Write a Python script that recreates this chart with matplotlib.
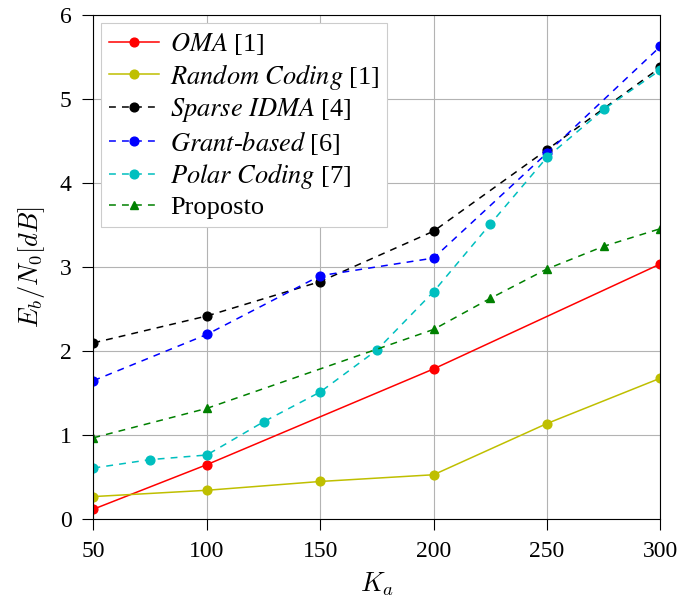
import matplotlib
matplotlib.use("Agg")
import matplotlib.pyplot as plt

plt.rcParams['font.family'] = ['Liberation Serif', 'DejaVu Serif']
plt.rcParams['mathtext.fontset'] = 'stix'

# data
k_oma = [50, 100, 200, 300]
eb_oma = [0.12, 0.65, 1.79, 3.04]

k_rand = [50, 100, 150, 200, 250, 300]
eb_rand = [0.27, 0.345, 0.45, 0.53, 1.14, 1.68]

k_idma = [50, 100, 150, 200, 250, 300]
eb_idma = [2.10, 2.42, 2.83, 3.43, 4.40, 5.38]

k_grant = [50, 100, 150, 200, 250, 300]
eb_grant = [1.65, 2.20, 2.90, 3.11, 4.36, 5.63]

k_polar = [50, 75, 100, 125, 150, 175, 200, 225, 250, 275, 300]
eb_polar = [0.61, 0.71, 0.765, 1.16, 1.515, 2.015, 2.71, 3.515, 4.31, 4.88, 5.35]

k_prop = [50, 100, 200, 225, 250, 275, 300]
eb_prop = [0.97, 1.32, 2.26, 2.63, 2.98, 3.25, 3.46]

labels = [r"$\mathit{OMA}$ [1]",
          r"$\mathit{Random\ Coding}$ [1]",
          r"$\mathit{Sparse\ IDMA}$ [4]",
          r"$\mathit{Grant}$-$\mathit{based}$ [6]",
          r"$\mathit{Polar\ Coding}$ [7]",
          "Proposto"]

fig = plt.figure(figsize=(6.97, 6.01), dpi=100)
ax = fig.add_axes([0.1340, 0.136, 0.8135, 0.8385])

lw = 1.1
ms = 6.3
dash = (0, (4.5, 4))
ax.plot(k_oma, eb_oma, '-', color='red', marker='o', lw=lw, ms=ms, label=labels[0])
ax.plot(k_rand, eb_rand, '-', color='#bfbf00', marker='o', lw=lw, ms=ms, label=labels[1])
ax.plot(k_idma, eb_idma, linestyle=dash, color='black', marker='o', lw=lw, ms=ms, label=labels[2])
ax.plot(k_grant, eb_grant, linestyle=dash, color='blue', marker='o', lw=lw, ms=ms, label=labels[3])
ax.plot(k_polar, eb_polar, linestyle=dash, color='#00bfbf', marker='o', lw=lw, ms=ms, label=labels[4])
ax.plot(k_prop, eb_prop, linestyle=dash, color='green', marker='^', lw=lw, ms=ms, label=labels[5])

ax.set_xlim(50, 300)
ax.set_ylim(0, 6)
ax.set_xticks([50, 100, 150, 200, 250, 300])
ax.set_yticks([0, 1, 2, 3, 4, 5, 6])
ax.tick_params(labelsize=17, direction='out', length=7.8, width=0.8)
ax.tick_params(axis='x', pad=8)
ax.tick_params(axis='y', pad=8)
ax.grid(True, color='#b3b3b3', lw=0.8)
ax.set_axisbelow(True)
for s in ax.spines.values():
    s.set_linewidth(0.8)

ax.set_xlabel(r"$K_a$", fontsize=19, math_fontfamily='cm', labelpad=6)
ax.set_ylabel(r"$E_b/N_0[dB]$", fontsize=19, math_fontfamily='cm', labelpad=9)

leg = ax.legend(loc='upper left', fontsize=19, frameon=True, fancybox=False,
                edgecolor='#cccccc', framealpha=1, handlelength=1.9,
                handletextpad=0.4, borderaxespad=0.3, labelspacing=0.17,
                borderpad=0.3)
leg.get_frame().set_linewidth(0.8)

fig.savefig("out.png", dpi=100)
